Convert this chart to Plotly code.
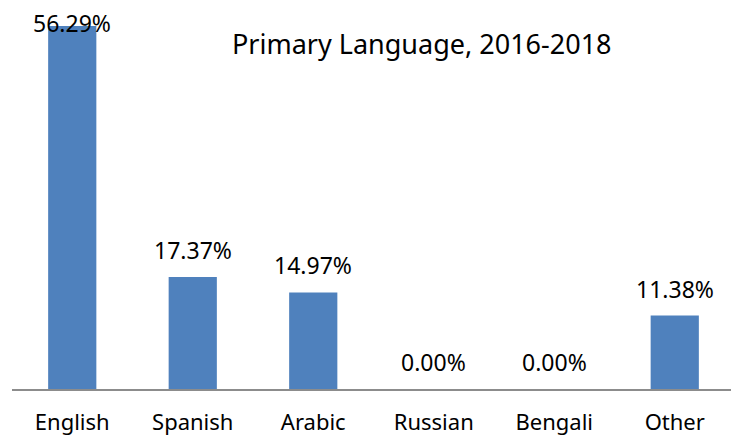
import plotly.graph_objects as go

categories = ["English", "Spanish", "Arabic", "Russian", "Bengali", "Other"]
values = [56.29, 17.37, 14.97, 0.00, 0.00, 11.38]
labels = [f"{v:.2f}%" for v in values]
title = "Primary Language, 2016-2018"

FONT = "Noto Sans"
Y_MAX = 59.08
PLOT_H = 381  # plot area height in px
ppu = PLOT_H / Y_MAX

fig = go.Figure(go.Bar(
    x=categories, y=values,
    marker=dict(color="#4F81BD", line=dict(width=0)),
    width=0.4, cliponaxis=False,
))

annotations = []
for c, v, t in zip(categories, values, labels):
    shift = min(27, (Y_MAX - v) * ppu - 15)
    annotations.append(dict(x=c, y=v, xref="x", yref="y", text=t, showarrow=False,
                            yanchor="middle", xanchor="center", yshift=shift,
                            font=dict(family=FONT, size=23, color="#000000")))
annotations.append(dict(text=title, xref="paper", yref="paper", x=0.567, y=0.908,
                        xanchor="center", yanchor="middle", showarrow=False,
                        font=dict(family=FONT, size=27, color="#000000")))

fig.update_layout(
    width=731, height=429,
    margin=dict(l=4, r=4, t=0, b=48, autoexpand=False),
    plot_bgcolor="white", paper_bgcolor="white",
    showlegend=False,
    font=dict(family=FONT, size=22, color="#000000"),
    annotations=annotations,
)
fig.update_xaxes(showline=True, linecolor="#8C8C8C", linewidth=2, showgrid=False,
                 ticks="outside", ticklen=13, tickcolor="rgba(0,0,0,0)",
                 automargin=False,
                 tickfont=dict(family=FONT, size=22, color="#000000"))
fig.update_yaxes(range=[0, Y_MAX], visible=False, showgrid=False)

fig.write_html("out.html")
